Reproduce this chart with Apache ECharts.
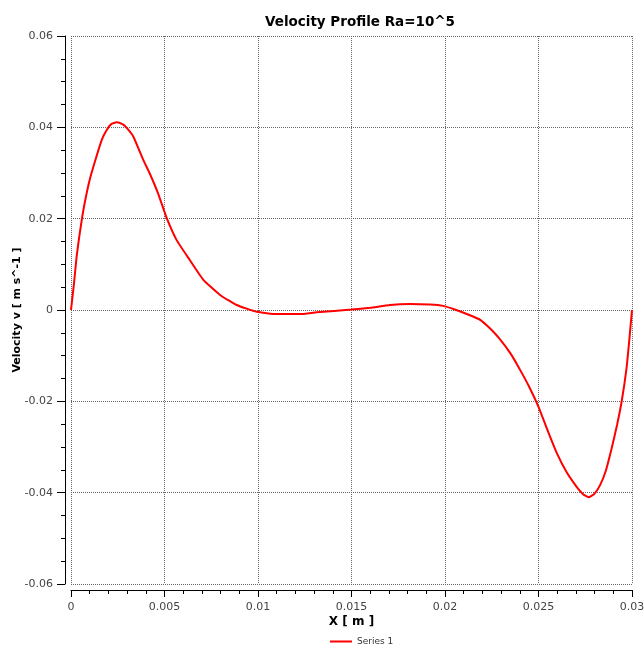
<!DOCTYPE html>
<html>
<head>
<meta charset="utf-8">
<script src="https://cdn.jsdelivr.net/npm/echarts@6/dist/echarts.min.js"></script>
<style>html,body{margin:0;padding:0;background:#fff;}#c{width:644px;height:648px;}</style>
</head>
<body>
<div id="c"></div>
<script>
var xValues = [0, 0.00016, 0.0003, 0.00044, 0.00059, 0.00075, 0.0010, 0.00128, 0.00164, 0.00191, 0.00215, 0.00244, 0.00275, 0.00298, 0.00333, 0.00387, 0.0042, 0.00465, 0.00512, 0.00565, 0.00636, 0.00708, 0.00797, 0.00886, 0.00993, 0.0110, 0.01225, 0.01314, 0.0150, 0.0160, 0.01706, 0.01813, 0.0192, 0.0199, 0.0206, 0.0213, 0.0219, 0.0224, 0.0229, 0.0235, 0.0240, 0.0245, 0.0250, 0.0255, 0.0260, 0.0265, 0.0270, 0.0274, 0.0277, 0.0280, 0.0283, 0.0286, 0.0289, 0.0292, 0.02946, 0.0297, 0.02985, 0.0300];
var velocity = [0, 0.0058, 0.0117, 0.0160, 0.0201, 0.0238, 0.0285, 0.0325, 0.0372, 0.0394, 0.0407, 0.0411, 0.0407, 0.0399, 0.0380, 0.0328, 0.0300, 0.0256, 0.0201, 0.0153, 0.0109, 0.0066, 0.0033, 0.0011, -0.0004, -0.0009, -0.0009, -0.0005, 0.0001, 0.0005, 0.0011, 0.0013, 0.0012, 0.0009, 0, -0.0011, -0.0022, -0.0040, -0.0062, -0.0095, -0.0130, -0.0168, -0.0212, -0.0265, -0.0315, -0.0355, -0.0385, -0.0404, -0.0410, -0.0402, -0.0383, -0.0352, -0.0305, -0.0252, -0.0197, -0.0130, -0.0068, 0];
var seriesName = 'Series 1';
var titleText = 'Velocity Profile Ra=10^5';
var xName = 'X [ m ]';
var yName = 'Velocity v [ m s^-1 ]';

var data = xValues.map(function (x, i) { return [x, velocity[i]]; });
var font = 'DejaVu Sans';
var gridLine = { show: true, lineStyle: { type: [1, 1], color: '#666', width: 1 } };
var chart = echarts.init(document.getElementById('c'));
chart.setOption({
  animation: false,
  backgroundColor: '#fff',
  title: {
    text: titleText, left: 355, top: 10, textAlign: 'center',
    textStyle: { fontFamily: font, fontSize: 13.5, fontWeight: 'bold', color: '#000' }
  },
  legend: {
    left: 325, top: 632, itemWidth: 22, itemHeight: 2, icon: 'rect',
    data: [seriesName],
    textStyle: { fontFamily: font, fontSize: 9, color: '#333' }
  },
  grid: { left: 71, right: 12, top: 36, bottom: 64, containLabel: false, outerBoundsMode: 'none' },
  xAxis: {
    type: 'value', min: 0, max: 0.03, interval: 0.005, offset: 6,
    name: xName, nameLocation: 'middle', nameGap: 26, nameMoveOverlap: false,
    nameTextStyle: { fontFamily: font, fontSize: 12, fontWeight: 'bold', color: '#000' },
    axisLine: { show: true, onZero: false, lineStyle: { color: '#000', width: 1 } },
    axisTick: { show: true, length: 7, lineStyle: { color: '#000' } },
    minorTick: { show: true, splitNumber: 5, length: 4, lineStyle: { color: '#000' } },
    axisLabel: { margin: 12, fontFamily: font, fontSize: 11, color: '#444' },
    splitLine: gridLine
  },
  yAxis: {
    type: 'value', min: -0.06, max: 0.06, interval: 0.02, offset: 6,
    name: yName, nameLocation: 'middle', nameGap: 42, nameMoveOverlap: false,
    nameTextStyle: { fontFamily: font, fontSize: 11, fontWeight: 'bold', color: '#000' },
    axisLine: { show: true, onZero: false, lineStyle: { color: '#000', width: 1 } },
    axisTick: { show: true, length: 8, lineStyle: { color: '#000' } },
    minorTick: { show: true, splitNumber: 4, length: 4, lineStyle: { color: '#000' } },
    axisLabel: { margin: 12, fontFamily: font, fontSize: 11, color: '#444' },
    splitLine: gridLine
  },
  series: [{
    name: seriesName, type: 'line', data: data, showSymbol: false, smooth: 0.15,
    lineStyle: { color: '#ff0000', width: 2 }, itemStyle: { color: '#ff0000' }
  }]
});
</script>
</body>
</html>
